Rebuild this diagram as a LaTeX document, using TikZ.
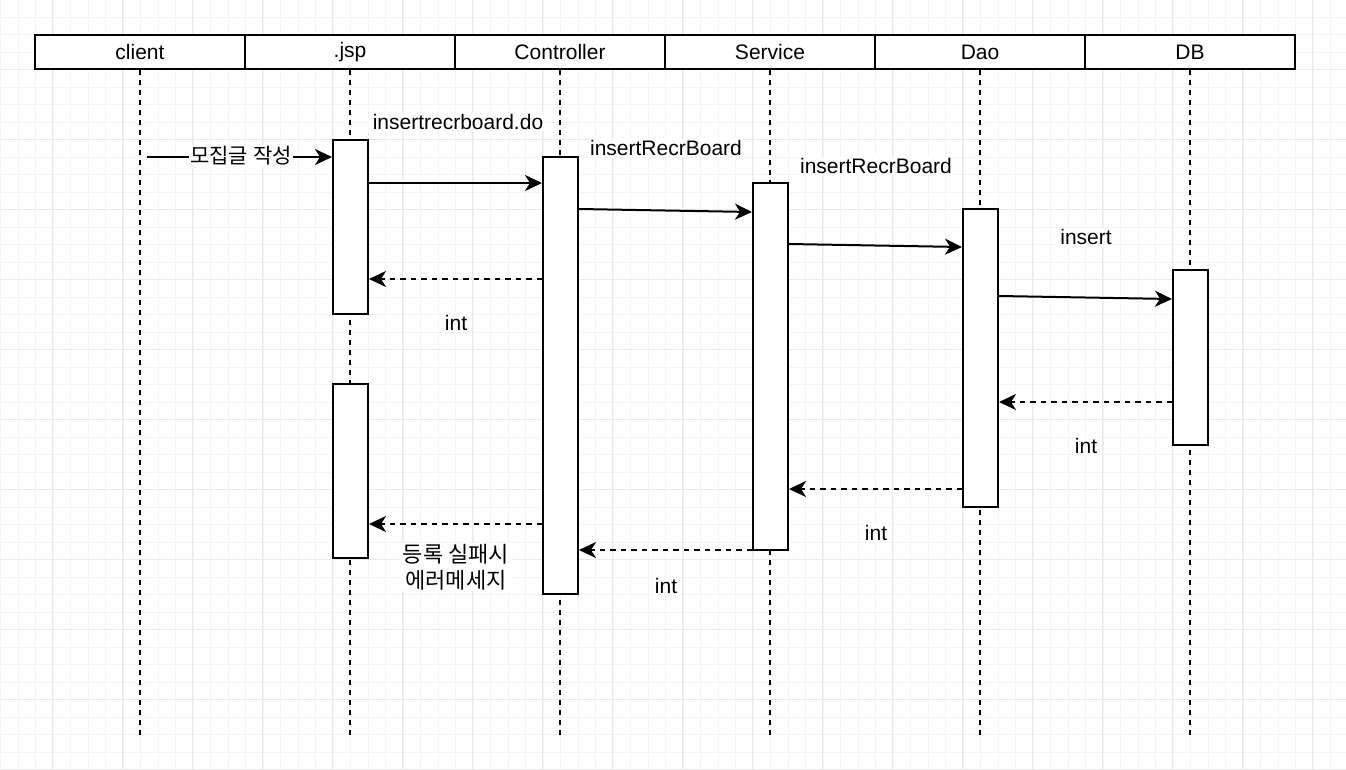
\documentclass[tikz,border=0pt]{standalone}
\usepackage{fontspec}
\setmainfont{Liberation Sans}
\newfontfamily\krfont{Noto Sans CJK KR}
\usetikzlibrary{arrows.meta,calc}
\definecolor{gridminor}{HTML}{F4F4F4}
\definecolor{gridmajor}{HTML}{E9E9E9}
\tikzset{
  hdr/.style={draw=black,line width=2pt,fill=white,minimum width=210pt,minimum height=34pt,inner sep=0pt,font=\fontsize{21}{24}\selectfont},
  actbox/.style={draw=black,line width=2pt,fill=white,minimum width=35pt,inner sep=0pt},
  lifeline/.style={line width=2pt,dash pattern=on 5pt off 5pt},
  msg/.style={line width=2pt,-{Stealth[length=17pt,width=16pt,inset=5pt]}},
  ret/.style={msg,dash pattern=on 5.5pt off 5pt},
  lbl/.style={fill=white,inner sep=1.5pt,font=\fontsize{21}{24}\selectfont},
  krlbl/.style={fill=white,inner sep=1.5pt,align=center,font=\krfont\fontsize{21}{26}\selectfont},
}
\begin{document}
\begin{tikzpicture}[x=1pt,y=-1pt]
\useasboundingbox (0,0) rectangle (1346,769);
\fill[white] (0,0) rectangle (1346,769);
% grid
\foreach \i in {0,...,77} {\draw[gridminor,line width=1pt] (0.5+\i*17.5,0) -- (0.5+\i*17.5,769);}
\foreach \i in {0,...,44} {\draw[gridminor,line width=1pt] (0,-0.5+\i*17.5) -- (1346,-0.5+\i*17.5);}
\foreach \i in {0,...,18} {\draw[gridmajor,line width=1pt] (52.5+\i*70,0) -- (52.5+\i*70,769);}
\foreach \i in {1,...,11} {\draw[gridmajor,line width=1pt] (0,-0.5+\i*70) -- (1346,-0.5+\i*70);}

% header
\node[hdr] (client) at (140,52) {client};
\node[hdr] (jsp) at (350,52) {.jsp};
\node[hdr] (ctrlh) at (560,52) {Controller};
\node[hdr] (srvh) at (770,52) {Service};
\node[hdr] (daoh) at (980,52) {Dao};
\node[hdr] (dbh) at (1190,52) {DB};

% lifeline ends
\foreach \n/\x in {client/140,jsp/350,ctrlh/560,srvh/770,daoh/980,dbh/1190}{
  \coordinate (\n-end) at (\x,735);
  \draw[lifeline] (\n.south) -- (\n-end);
}

% activation boxes
\node[actbox,minimum height=174pt] (jsp1) at (350.5,227) {};
\node[actbox,minimum height=174pt] (jsp2) at (350.5,471) {};
\node[actbox,minimum height=437pt] (ctrl) at (560.5,375.5) {};
\node[actbox,minimum height=367pt] (srv) at (770.5,366.5) {};
\node[actbox,minimum height=298pt] (dao) at (980.5,358) {};
\node[actbox,minimum height=175pt] (db) at (1190.5,357.5) {};

% y helper coordinates
\foreach \y in {157,183,209,212,244,247,279,296,299,402,489,524,550}{\coordinate (y\y) at (0,\y);}
\coordinate (cstart) at (147,157);

% messages
\draw[msg] (cstart) -- (jsp1.west |- y157);
\node[krlbl] (lcl) at (241,156) {모집글 작성};
\draw[msg] (jsp1.east |- y183) -- (ctrl.west |- y183);
\draw[msg] (ctrl.east |- y209) -- (srv.west |- y212);
\draw[msg] (srv.east |- y244) -- (dao.west |- y247);
\draw[msg] (dao.east |- y296) -- (db.west |- y299);
\draw[ret] (db.west |- y402) -- (dao.east |- y402);
\draw[ret] (dao.west |- y489) -- (srv.east |- y489);
\draw[ret] (srv.west |- y550) -- (ctrl.east |- y550);
\draw[ret] (ctrl.west |- y279) -- (jsp1.east |- y279);
\draw[ret] (ctrl.west |- y524) -- (jsp2.east |- y524);

% labels
\node[lbl] (l1) at (458,122) {insertrecrboard.do};
\node[lbl] (l2) at (666,148) {insertRecrBoard};
\node[lbl] (l3) at (876,166) {insertRecrBoard};
\node[lbl] (l4) at (1086,237) {insert};
\node[lbl] (l5) at (456,323) {int};
\node[lbl] (l6) at (1086,446) {int};
\node[lbl] (l7) at (876,533) {int};
\node[lbl] (l8) at (666,586) {int};
\node[krlbl,font=\krfont\fontsize{22}{26}\selectfont] (l9) at (456,567) {등록 실패시\\에러메세지};
\end{tikzpicture}
\end{document}
